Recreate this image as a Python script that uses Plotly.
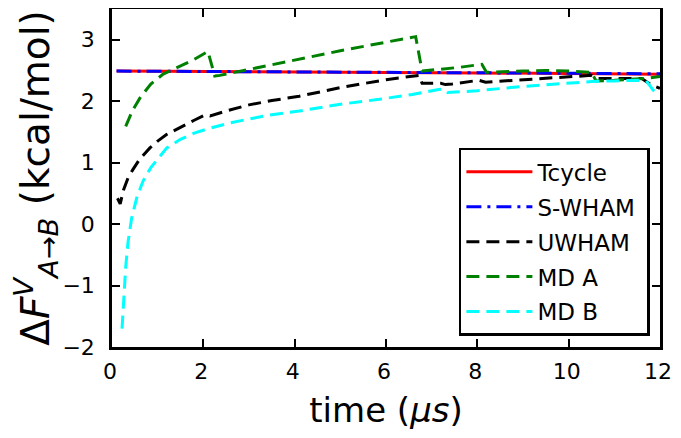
import plotly.graph_objects as go

# ---- data ----
tc_x = [0.1, 2.0, 4.0, 6.0, 8.0, 10.0, 12.0]
tc_y = [2.49, 2.485, 2.48, 2.475, 2.46, 2.45, 2.44]

sw_x = [0.1, 2.0, 4.0, 6.0, 8.0, 10.0, 12.0]
sw_y = [2.49, 2.485, 2.48, 2.475, 2.465, 2.455, 2.445]

uw_x = [0.12, 0.18, 0.25, 0.35, 0.46, 0.6, 0.83, 1.0, 1.2, 1.5, 1.8, 2.05, 2.15, 2.5,
        3.0, 3.5, 4.1, 5.0, 6.0, 6.72, 6.79, 7.2, 7.3, 7.45, 8.03, 8.18, 8.6, 9.5,
        10.0, 10.5, 10.65, 11.2, 11.6, 11.8, 12.0]
uw_y = [0.42, 0.33, 0.55, 0.75, 0.89, 1.05, 1.24, 1.35, 1.46, 1.58, 1.69, 1.78, 1.76, 1.84,
        1.94, 2.01, 2.08, 2.22, 2.35, 2.42, 2.29, 2.29, 2.27, 2.28, 2.34, 2.31, 2.33, 2.38,
        2.40, 2.42, 2.37, 2.37, 2.37, 2.27, 2.21]

mda_x = [0.3, 0.45, 0.61, 0.85, 1.12, 1.5, 1.8, 2.1, 2.25, 2.36, 3.0, 4.0, 5.0, 6.0,
         6.65, 6.79, 7.2, 7.6, 8.1, 8.2, 9.0, 9.5, 10.0, 10.5, 10.6, 11.0, 11.7, 12.0]
mda_y = [1.59, 1.85, 2.05, 2.28, 2.44, 2.58, 2.68, 2.81, 2.41, 2.42, 2.52, 2.67, 2.82, 2.96,
         3.05, 2.49, 2.52, 2.55, 2.6, 2.47, 2.49, 2.50, 2.49, 2.47, 2.33, 2.34, 2.37, 2.40]

mdb_x = [0.22, 0.27, 0.3, 0.35, 0.43, 0.55, 0.68, 0.85, 1.0, 1.2, 1.5, 1.8, 2.14, 2.6,
         3.0, 3.5, 4.1, 5.0, 5.85, 6.57, 7.15, 7.25, 7.35, 8.0, 9.0, 9.87, 10.5, 11.0,
         11.5, 11.7, 11.85, 12.0]
mdb_y = [-1.7, -1.0, -0.7, -0.3, 0.1, 0.45, 0.7, 0.92, 1.06, 1.24, 1.38, 1.48, 1.56, 1.65,
         1.71, 1.78, 1.84, 1.95, 2.03, 2.11, 2.19, 2.20, 2.14, 2.17, 2.24, 2.29, 2.32, 2.33,
         2.34, 2.33, 2.18, 2.12]

names = ["Tcycle", "S-WHAM\u00a0", "UWHAM", "MD A", "MD B"]
x_ticks = [0, 2, 4, 6, 8, 10, 12]
y_ticks = [-2, -1, 0, 1, 2, 3]
y_tick_text = ["\u22122", "\u22121", "0", "1", "2", "3"]

FONT = "DejaVu Sans"
series = [
    (tc_x, tc_y, names[0], "#ff0000", "solid"),
    (sw_x, sw_y, names[1], "#0000ff", "15px,6px,3px,6px"),
    (uw_x, uw_y, names[2], "#000000", "13px,7px"),
    (mda_x, mda_y, names[3], "#008000", "13px,7px"),
    (mdb_x, mdb_y, names[4], "#00ffff", "13px,7px"),
]

fig = go.Figure()
for i, (xs, ys, nm, col, dash) in enumerate(series):
    fig.add_trace(go.Scatter(
        x=xs, y=ys, name=nm, mode="lines", legendgroup=f"g{i}",
        line=dict(color=col, width=3, dash=dash),
    ))

axis_common = dict(
    showline=True, linecolor="black", linewidth=2.5, mirror="ticks",
    ticks="inside", ticklen=8, tickwidth=1.5, tickcolor="black",
    showgrid=False, zeroline=False, automargin=False,
    ticklabeloverflow="allow",
    tickfont=dict(family=FONT, size=22, color="black"),
)

# the page body adds an 8px margin, so the figure is sized/offset to compensate
fig.update_layout(
    width=665, height=422,
    margin=dict(l=104, r=13, t=1, b=83),
    paper_bgcolor="white", plot_bgcolor="white",
    font=dict(family=FONT, color="black"),
    showlegend=True,
    legend=dict(
        x=0.633, y=0.589, xanchor="left", yanchor="top",
        bordercolor="black", borderwidth=2.5, bgcolor="white",
        font=dict(family=FONT, size=23, color="black"),
        tracegroupgap=2, itemwidth=66,
    ),
)
fig.update_xaxes(
    range=[0, 12], tickvals=x_ticks, ticktext=[str(v) for v in x_ticks],
    title=dict(text="time (<i>μs</i>)", font=dict(family=FONT, size=34), standoff=17),
    ticklabelstandoff=3, ticklabelshift=-2,
    **axis_common,
)
fig.update_yaxes(
    range=[-2, 3.5], tickvals=y_ticks, ticktext=y_tick_text,
    title=dict(text="Δ<i>F</i><sup><i>V</i></sup><sub><i>A</i>→<i>B</i></sub> (kcal/mol)",
               font=dict(family=FONT, size=39), standoff=27),
    ticklabelstandoff=10,
    **axis_common,
)

fig.write_html("out.html")
